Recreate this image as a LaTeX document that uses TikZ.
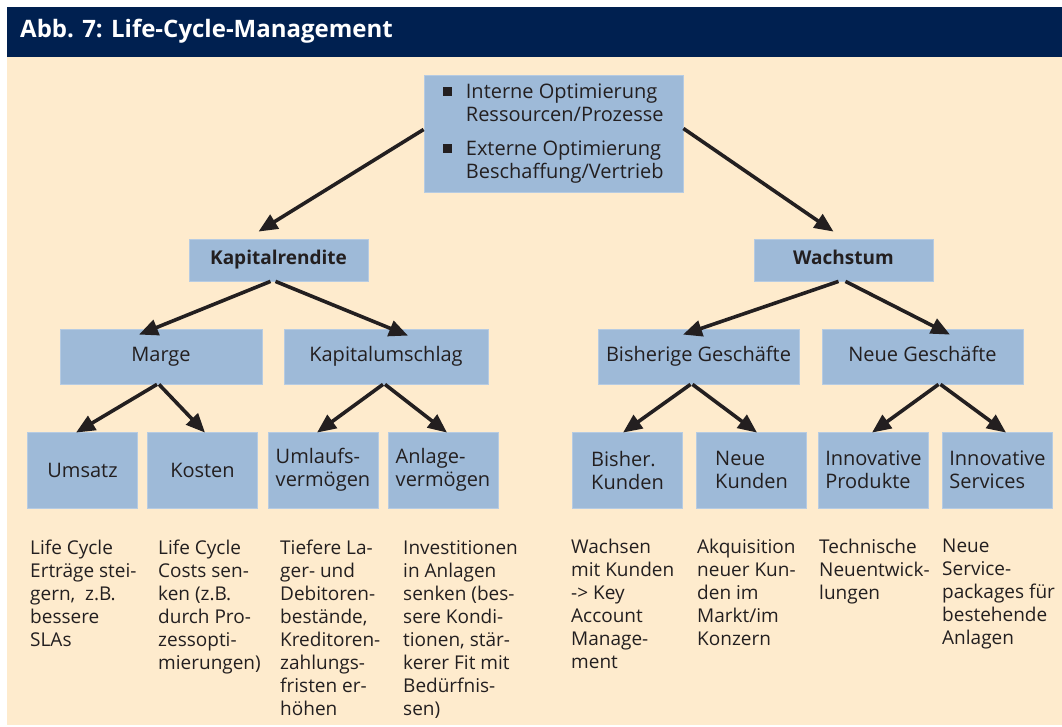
\documentclass[tikz,border=0pt]{standalone}
\usepackage{fontspec}
\setmainfont{Open Sans}
\usetikzlibrary{arrows.meta}

\definecolor{navy}{RGB}{0,32,80}
\definecolor{creme}{RGB}{254,235,205}
\definecolor{boxblau}{RGB}{158,186,216}
\definecolor{schrift}{RGB}{35,31,32}
\newcommand{\blt}{\rule[2.5pt]{8.5pt}{8.5pt}}

\begin{document}
\begin{tikzpicture}[x=1pt,y=-1pt,
        kasten/.style={fill=boxblau, draw=boxblau!75!white, line width=0.8pt, text=schrift,
            align=left, inner sep=0pt, font=\fontsize{20}{23}\selectfont},
        einzeilig/.style={text height=14pt, text depth=4pt},
        pfeil/.style={-{Triangle[length=19pt,width=16pt]}, line width=3.6pt, draw=schrift},
        notiz/.style={anchor=north west, align=left, inner sep=0pt, text=schrift,
            font=\fontsize{19}{23}\selectfont}]
    \useasboundingbox (0,0) rectangle (1062,727); % page = picture size in px
    \fill[white] (0,0) rectangle (1062,727);
    \fill[creme] (7,57) rectangle (1062,725);
    \fill[navy] (7,7) rectangle (1062,57);
    \node[anchor=base west, inner sep=0pt, text=white, font=\fontsize{24}{28}\selectfont\bfseries]
        (titel) at (20,38) {Abb. 7: Life-Cycle-Management};

    % top box with the two bullets
    \node[kasten, minimum width=259, minimum height=117] (ziel) at (553.5,133.5)
        {\begin{tabular}{@{}l@{\hspace{14pt}}l@{}}
            \blt & Interne Optimierung\\
                 & Ressourcen/Prozesse\\[11pt]
            \blt & Externe Optimierung\\
                 & Beschaffung/Vertrieb
        \end{tabular}};

    % second level
    \node[kasten, einzeilig, minimum width=179, minimum height=42, font=\fontsize{19}{23}\selectfont\bfseries]
        (kr) at (278.5,260) {Kapitalrendite};
    \node[kasten, einzeilig, minimum width=179, minimum height=42, font=\fontsize{19}{23}\selectfont\bfseries]
        (wa) at (843.5,260) {Wachstum};

    % third level
    \node[kasten, einzeilig, minimum width=202, minimum height=55] (marge) at (161,356.5) {Marge};
    \node[kasten, einzeilig, minimum width=204, minimum height=55] (kum) at (386,356.5) {Kapitalumschlag};
    \node[kasten, einzeilig, minimum width=201, minimum height=55] (bg) at (698.5,356.5) {Bisherige Geschäfte};
    \node[kasten, einzeilig, minimum width=201, minimum height=55] (ng) at (922.5,356.5) {Neue Geschäfte};

    % bottom row of boxes
    \foreach \name/\x/\txt in {umsatz/82.5/Umsatz, kosten/202.5/Kosten,
            umlauf/323/{Umlaufs-\\vermögen}, anlage/443/{Anlage-\\vermögen},
            bk/627.5/{Bisher.\\Kunden}, nk/751.5/{Neue\\Kunden},
            ip/873.5/{Innovative\\Produkte}, is/997.5/{Innovative\\Services}}{
        \node[kasten, minimum width=110, minimum height=76] (\name) at (\x,470) {\txt};
    }

    % arrows
    \draw[pfeil] ([yshift=4pt]ziel.west) -- ([xshift=-20pt,yshift=7pt]kr.north);
    \draw[pfeil] ([yshift=5pt]ziel.east) -- ([xshift=-10pt,yshift=7pt]wa.north);
    \draw[pfeil] ([xshift=-8pt]kr.south) -- ([xshift=-22pt,yshift=-6pt]marge.north);
    \draw[pfeil] ([xshift=-3pt]kr.south) -- ([xshift=22pt,yshift=-7pt]kum.north);
    \draw[pfeil] ([xshift=-5pt]wa.south) -- ([xshift=-15.5pt,yshift=-6pt]bg.north);
    \draw[pfeil] ([xshift=2pt]wa.south) -- ([xshift=27.5pt,yshift=-6pt]ng.north);
    \draw[pfeil] ([xshift=-4pt]marge.south) -- ([xshift=-6.5pt,yshift=-1pt]umsatz.north);
    \draw[pfeil] ([xshift=-2pt]marge.south) -- ([xshift=2.5pt,yshift=-1pt]kosten.north);
    \draw[pfeil] ([xshift=-3pt]kum.south) -- ([xshift=-6pt,yshift=-1pt]umlauf.north);
    \draw[pfeil] ([xshift=-1pt]kum.south) -- ([xshift=4pt,yshift=-1pt]anlage.north);
    \draw[pfeil] ([xshift=-8pt]bg.south) -- ([xshift=-4.5pt,yshift=-1pt]bk.north);
    \draw[pfeil] ([xshift=-6pt]bg.south) -- ([xshift=5.5pt,yshift=-1pt]nk.north);
    \draw[pfeil] ([xshift=16pt]ng.south) -- ([xshift=-1.5pt,yshift=-1pt]ip.north);
    \draw[pfeil] ([xshift=18pt]ng.south) -- ([xshift=8.5pt,yshift=-1pt]is.north);

    % notes under the boxes
    \node[notiz] (n1) at (30,540) {Life Cycle\\Erträge stei-\\gern,~ z.B.\\bessere\\SLAs};
    \node[notiz] (n2) at (158,540) {Life Cycle\\Costs sen-\\ken (z.B.\\durch Pro-\\zessopti-\\mierungen)};
    \node[notiz] (n3) at (280,540) {Tiefere La-\\ger- und\\Debitoren-\\bestände,\\Kreditoren-\\zahlungs-\\fristen er-\\höhen};
    \node[notiz] (n4) at (403,540) {Investitionen\\in Anlagen\\senken (bes-\\sere Kondi-\\tionen, stär-\\kerer Fit mit\\Bedürfnis-\\sen)};
    \node[notiz] (n5) at (571,539) {Wachsen\\mit Kunden\\-> Key\\Account\\Manage-\\ment};
    \node[notiz] (n6) at (697,539) {Akquisition\\neuer Kun-\\den im\\Markt/im\\Konzern};
    \node[notiz] (n7) at (819,539) {Technische\\Neuentwick-\\lungen};
    \node[notiz] (n8) at (942,539) {Neue\\Service-\\packages für\\bestehende\\Anlagen};
\end{tikzpicture}
\end{document}
